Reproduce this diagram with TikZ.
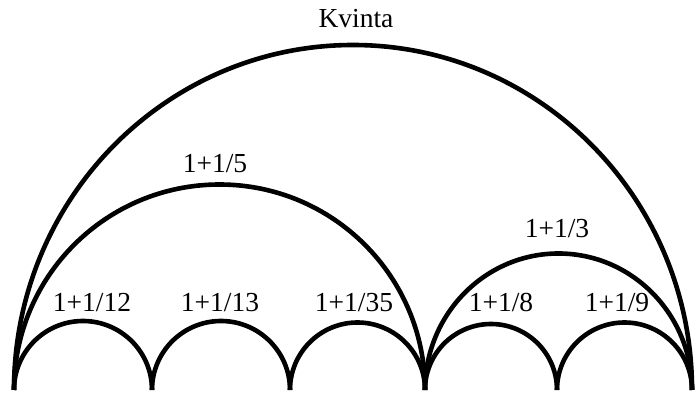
\documentclass[tikz,border=0pt]{standalone}
\usepackage{fontspec}
\setmainfont{Liberation Serif}
\usetikzlibrary{positioning, calc}

\begin{document}
\begin{tikzpicture}[x=1pt, y=1pt,
  every node/.style={font=\fontsize{27.5}{32}\selectfont},
  bow/.style = {line width=4.6pt, line cap=butt},
  lbl/.style = {inner sep=0pt, anchor=base},
]
  \useasboundingbox (0,0) rectangle (697,393);
  \foreach \n/\x in {p0/14, p1/152, p2/290, p3/425, p4/557, p5/692}
     \coordinate (\n) at (\x,3);
  % small bows along the base
  \foreach \a/\b in {p0/p1, p1/p2, p2/p3, p3/p4, p4/p5}
     \draw[bow] let \p1=(\a), \p2=(\b) in
       (\a) arc[start angle=180, end angle=0, radius={(\x2-\x1)/2}];
  % larger bows
  \draw[bow] let \p1=(p0), \p2=(p3) in
    (p0) arc[start angle=180, end angle=0, radius={(\x2-\x1)/2}];
  \draw[bow] let \p1=(p3), \p2=(p5) in
    (p3) arc[start angle=180, end angle=0, x radius={(\x2-\x1)/2}, y radius={(\x2-\x1)/2+3}];
  \draw[bow] let \p1=(p0), \p2=(p5) in
    (p0) arc[start angle=180, end angle=0, x radius={(\x2-\x1)/2}, y radius={(\x2-\x1)/2+6}];
  % labels
  \node[lbl] (kvinta) at (356,365) {Kvinta};
  \node[lbl] (q5)  at (215,220) {1+1/5};
  \node[lbl] (q3)  at (557,155) {1+1/3};
  \node[lbl] (q12) at (92,81)   {1+1/12};
  \node[lbl] (q13) at (220,81)  {1+1/13};
  \node[lbl] (q35) at (354,81)  {1+1/35};
  \node[lbl] (q8)  at (501,81)  {1+1/8};
  \node[lbl] (q9)  at (617,81)  {1+1/9};
\end{tikzpicture}
\end{document}
